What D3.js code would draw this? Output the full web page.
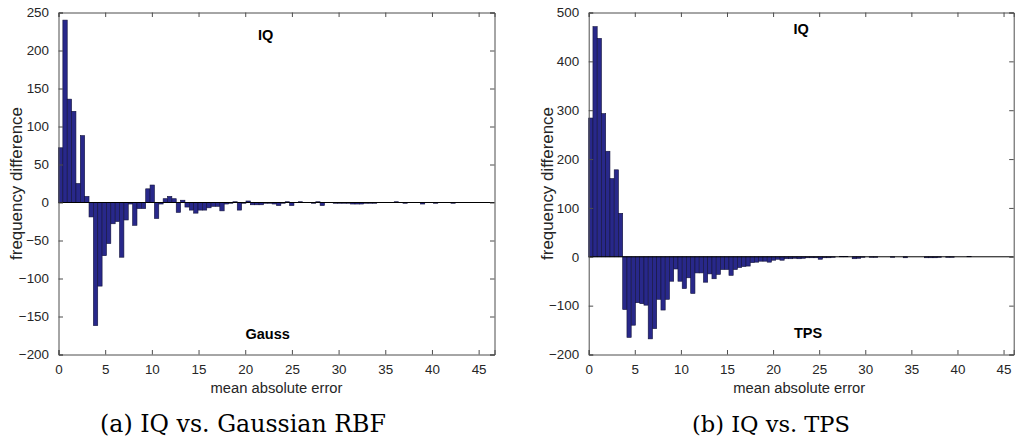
<!DOCTYPE html>
<html><head><meta charset="utf-8">
<script src="https://cdn.jsdelivr.net/npm/d3@7"></script>
<style>
html,body{margin:0;padding:0;background:#fff;}
svg{display:block;}
</style></head>
<body>
<svg id="chart" width="1016" height="443"></svg>
<script>
// ---- data ----
const xTicks = [0,5,10,15,20,25,30,35,40,45];
const leftYTicks = [-200,-150,-100,-50,0,50,100,150,200,250];
const rightYTicks = [-200,-100,0,100,200,300,400,500];
const leftBinWidth = 0.467;
const rightBinWidth = 0.461;
const leftValues = [72,240,136,120,25,88,8,-19,-162,-110,
-70,-54,-28,-25,-72,-23,-2,-30,-8,-8,
18,23,-21,-2,5,8,5,-13,3,-6,
-10,-14,-10,-10,-7,-5,-5,-11,-2,-1,
1,-10,-1,2,-3,-3,-3,-1,-1,-2,
-4,-1,1,-4,0,1,0,0,-1,1,
-4,0,0,-1,-1,-1,-1,-2,-2,-2,
-1,-1,-1,0,0,0,0,1,0,-1,
0,0,0,-2,0,0,-1,0,0,0,
-1,0,0,0,0,0,0,0,0,0];
const rightValues = [284,471,447,293,216,160,178,89,-108,-165,
-140,-94,-96,-99,-168,-147,-87,-109,-87,-50,
-25,-50,-65,-43,-75,-33,-33,-52,-35,-45,
-36,-26,-26,-38,-26,-22,-20,-19,-12,-11,
-9,-9,-11,-7,-5,-7,-4,-4,-3,-4,
-3,-2,-2,-2,-5,-2,-2,-1,0,1,
1,0,-4,-3,-1,0,-1,-1,0,0,
0,-1,0,0,-2,0,0,0,0,-2,
-2,-2,-1,0,-1,-1,0,0,0,1,
0,0,0,0,0,0,0,0,0,0];
const leftNotes = ["IQ","Gauss"];
const leftNoteX = [22.2,22.4];
const leftNoteY = [220,-173];
const rightNotes = ["IQ","TPS"];
const rightNoteX = [23.05,23.8];
const rightNoteY = [467,-157];
const xLabel = "mean absolute error";
const yLabel = "frequency difference";
const captions = ["(a) IQ vs. Gaussian RBF","(b) IQ vs. TPS"];

// ---- drawing ----
const svg = d3.select("#chart");
const axisColor = "#4d4d4d";
const textColor = "#262626";
const barFill = "#28288a";
const barEdge = "#12123a";
const sans = "'Liberation Sans', Arial, sans-serif";

function fitWidth(sel, target){
  const node = sel.node();
  const fs = parseFloat(sel.attr("font-size"));
  const w = node.getComputedTextLength();
  if (w > 0) sel.attr("font-size", (fs*target/w).toFixed(2) + "px");
  return sel;
}

function panel(cfg){
  const g = svg.append("g");
  const x = d3.scaleLinear().domain([0, cfg.binW*cfg.values.length]).range([cfg.x0, cfg.x1]);
  const y = d3.scaleLinear().domain(cfg.yDomain).range([cfg.y1, cfg.y0]);
  g.append("rect").attr("x",cfg.x0).attr("y",cfg.y0).attr("width",cfg.x1-cfg.x0).attr("height",cfg.y1-cfg.y0)
    .attr("fill","#fff");
  // bars
  g.append("g").selectAll("rect").data(cfg.values.map((v,i)=>({v,i}))).join("rect")
    .attr("x", d=>x(d.i*cfg.binW))
    .attr("width", d=>x((d.i+1)*cfg.binW)-x(d.i*cfg.binW))
    .attr("y", d=>y(Math.max(0,d.v)))
    .attr("height", d=>Math.abs(y(d.v)-y(0)))
    .attr("fill", barFill)
    .attr("stroke", barEdge)
    .attr("stroke-width", 0.6)
    .attr("display", d=>d.v===0?"none":null);
  // baseline
  g.append("line").attr("x1",cfg.x0).attr("x2",cfg.x1).attr("y1",y(0)).attr("y2",y(0))
    .attr("stroke","#000").attr("stroke-width",1);
  // axes (ticks inside, box)
  const tl = 4.5;
  const axB = d3.axisBottom(x).tickValues(xTicks).tickSize(-tl).tickPadding(tl+5).tickFormat(d3.format("d"));
  const axT = d3.axisTop(x).tickValues(xTicks).tickSize(-tl).tickFormat("");
  const axL = d3.axisLeft(y).tickValues(cfg.yTicks).tickSize(-tl).tickPadding(tl+5).tickFormat(d3.format("d"));
  const axR = d3.axisRight(y).tickValues(cfg.yTicks).tickSize(-tl).tickFormat("");
  const style = sel => {
    sel.selectAll("path").attr("stroke", axisColor).attr("stroke-width",1);
    sel.selectAll("line").attr("stroke", axisColor).attr("stroke-width",1);
    sel.selectAll("text").attr("fill", textColor).attr("font-family",sans).attr("font-size","13.4px");
  };
  g.append("g").attr("transform",`translate(0,${cfg.y1})`).call(axB).call(style);
  g.append("g").attr("transform",`translate(0,${cfg.y0})`).call(axT).call(style);
  g.append("g").attr("transform",`translate(${cfg.x0},0)`).call(axL).call(style);
  g.append("g").attr("transform",`translate(${cfg.x1},0)`).call(axR).call(style);
  // axis labels
  const xl = g.append("text").attr("x",(cfg.x0+cfg.x1)/2 + cfg.xlShift).attr("y",cfg.y1+38)
    .attr("text-anchor","middle").attr("fill",textColor)
    .attr("font-family",sans).attr("font-size","14px").text(xLabel);
  fitWidth(xl, 132);
  const yl = g.append("text").attr("transform",`translate(${cfg.ylx},${(cfg.y0+cfg.y1)/2}) rotate(-90)`)
    .attr("text-anchor","middle").attr("dominant-baseline","central").attr("fill",textColor)
    .attr("font-family",sans).attr("font-size","14px").text(yLabel);
  fitWidth(yl, 153);
  // annotations
  cfg.notes.forEach((t,k)=>{
    g.append("text").attr("x",x(cfg.noteX[k])).attr("y",y(cfg.noteY[k]))
      .attr("text-anchor","middle").attr("dominant-baseline","central")
      .attr("font-family",sans).attr("font-weight","bold")
      .attr("font-size","14.5px").attr("fill","#000").text(t);
  });
  // caption
  const cap = g.append("text").attr("x",cfg.capX).attr("y",432)
    .attr("text-anchor","middle").attr("fill","#000")
    .attr("font-family","'DejaVu Serif', 'Liberation Serif', serif").attr("font-size","20px").text(cfg.caption);
  fitWidth(cap, cfg.capW);
}

panel({values:leftValues, binW:leftBinWidth, x0:58.5, x1:494.5, y0:12.5, y1:354.5,
  yDomain:[-200,250], yTicks:leftYTicks, ylx:16, xlShift:0, notes:leftNotes, noteX:leftNoteX, noteY:leftNoteY,
  caption:captions[0], capX:243, capW:286});
panel({values:rightValues, binW:rightBinWidth, x0:588.7, x1:1013.7, y0:12.5, y1:354.5,
  yDomain:[-200,500], yTicks:rightYTicks, ylx:547, xlShift:-2, notes:rightNotes, noteX:rightNoteX, noteY:rightNoteY,
  caption:captions[1], capX:771, capW:158});
</script>
</body></html>
